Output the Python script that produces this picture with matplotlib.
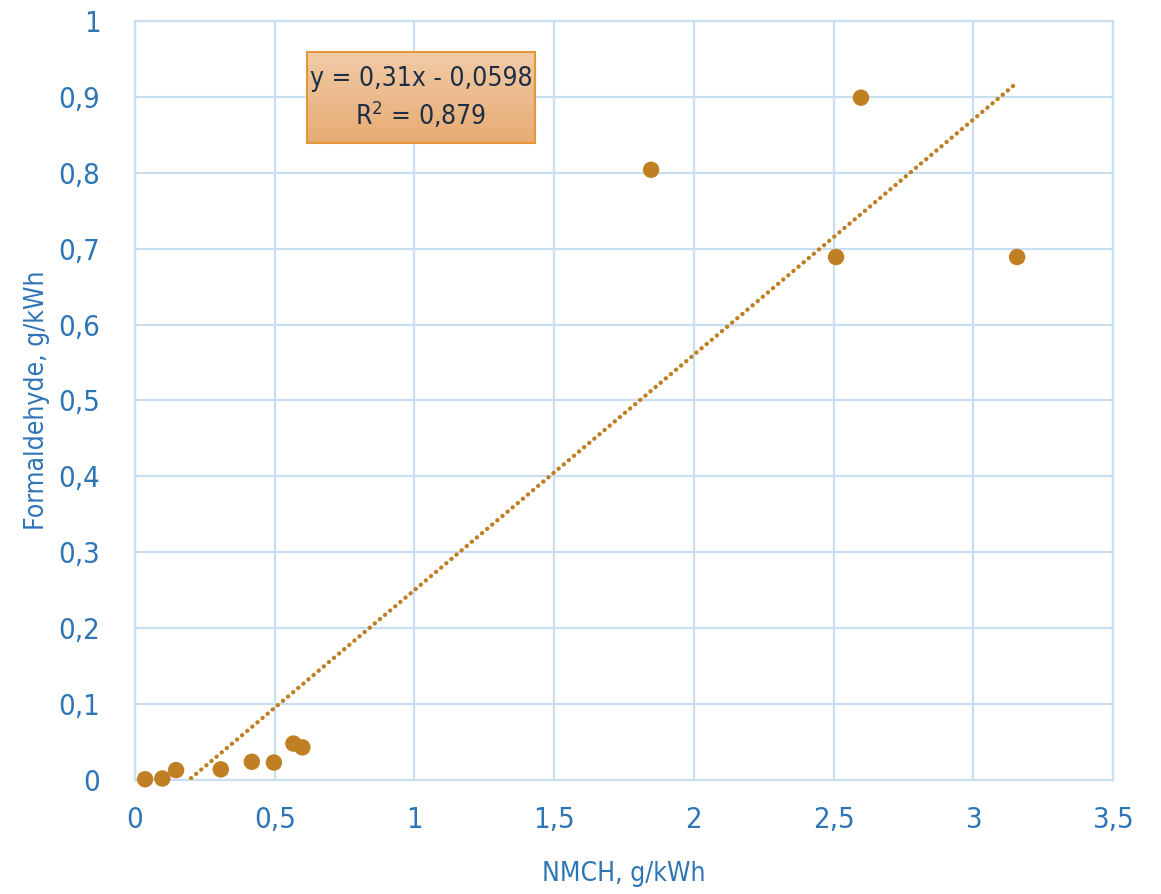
import numpy as np
import matplotlib
matplotlib.use("Agg")
import matplotlib.pyplot as plt
from matplotlib.patches import Rectangle

plt.rcParams.update({
    "font.family": ["DejaVu Sans"],
    "font.stretch": "condensed",
})

# data
nmch = [0.036, 0.098, 0.147, 0.307, 0.418, 0.497, 0.567, 0.599, 1.847, 2.509, 2.598, 3.157]
formaldehyde = [0.001, 0.002, 0.013, 0.014, 0.024, 0.023, 0.048, 0.043, 0.804, 0.689, 0.899, 0.689]
slope = 0.31
intercept = -0.0598
r2 = 0.879

x_ticks = [0, 0.5, 1, 1.5, 2, 2.5, 3, 3.5]
y_ticks = [0, 0.1, 0.2, 0.3, 0.4, 0.5, 0.6, 0.7, 0.8, 0.9, 1]

blue = "#2E75B6"
grid_c = "#C9DEF1"
dot_c = "#C07F22"

fig = plt.figure(figsize=(11.61, 8.94), dpi=100)
ax = fig.add_axes([135 / 1161, 1 - 780 / 894, (1113 - 135) / 1161, (780 - 21) / 894])

# trendline, clipped at y = 0 like Excel
xt = np.linspace(min(nmch), max(nmch), 200)
ax.plot(xt, slope * xt + intercept, color=dot_c, lw=3.1, linestyle=(0, (0.05, 1.5)),
        dash_capstyle="round", zorder=3)
ax.scatter(nmch, formaldehyde, s=140, color=dot_c, edgecolors="none", zorder=4, clip_on=False)

ax.set_xlim(0, 3.5)
ax.set_ylim(0, 1)
ax.set_xticks(x_ticks)
ax.set_yticks(y_ticks)
ax.set_xticklabels([f"{v:g}".replace(".", ",") for v in x_ticks])
ax.set_yticklabels([f"{v:g}".replace(".", ",") for v in y_ticks])
ax.tick_params(length=0, labelsize=21, labelcolor=blue)
ax.tick_params(axis="y", pad=25)
ax.tick_params(axis="x", pad=19)
ax.grid(True, color=grid_c, lw=1.6)
ax.set_axisbelow(True)
for s in ax.spines.values():
    s.set_color(grid_c)
    s.set_linewidth(1.6)

ax.set_xlabel("NMCH, g/kWh", fontsize=19, color=blue, labelpad=19)
ax.set_ylabel("Formaldehyde, g/kWh", fontsize=19, color=blue, labelpad=6)

# equation box with gradient fill
bx0, bx1 = 307 / 1161, 535 / 1161
by0, by1 = 1 - 143 / 894, 1 - 52 / 894
bax = fig.add_axes([bx0, by0, bx1 - bx0, by1 - by0])
grad = np.linspace(0, 1, 100).reshape(-1, 1)
cmap = matplotlib.colors.LinearSegmentedColormap.from_list("g", ["#F1CBA6", "#E7AB73"])
bax.imshow(grad, aspect="auto", cmap=cmap, extent=[0, 1, 0, 1], origin="upper")
bax.add_patch(Rectangle((0, 0), 1, 1, fill=False, edgecolor="#E3973A", lw=1.5,
                        transform=bax.transAxes, clip_on=False))
bax.set_xlim(0, 1)
bax.set_ylim(0, 1)
bax.axis("off")
eq = f"y = {slope:g}x - {abs(intercept):g}".replace(".", ",")
bax.text(0.5, 0.70, eq, ha="center", va="center", fontsize=19, color="#1E2F45")
bax.text(0.5, 0.30, f"R$^2$ = {r2:g}".replace(".", ","), ha="center", va="center",
         fontsize=19, color="#1E2F45")

fig.savefig("out.png", dpi=100)
